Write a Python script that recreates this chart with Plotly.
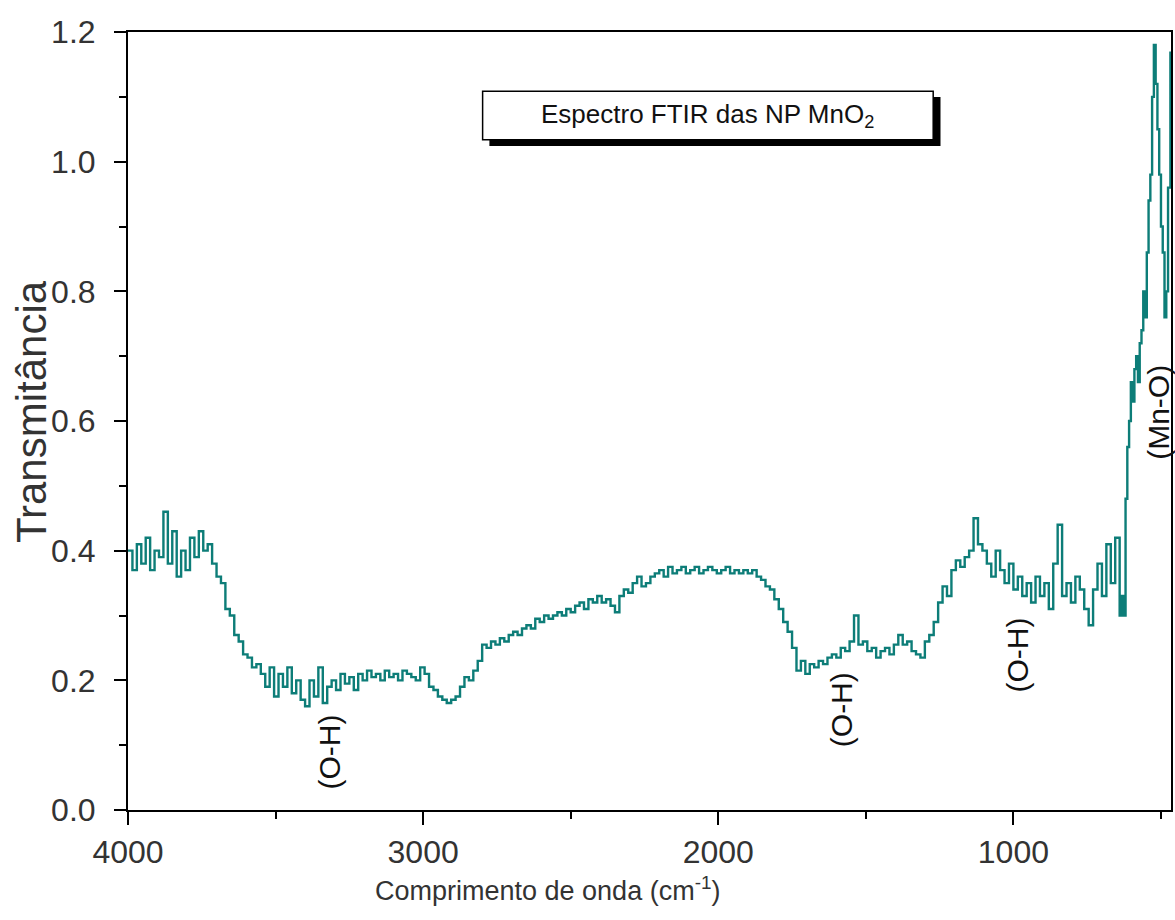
import plotly.graph_objects as go

# Wavenumber (cm^-1) and transmittance
wavenumber = [
    4000, 3985, 3970, 3955, 3940, 3925, 3910, 3895, 3880, 3865, 3850, 3835, 3820, 3805, 3790, 3775, 3760, 3745,
    3730, 3715, 3700, 3685, 3670, 3655, 3640, 3625, 3610, 3595, 3580, 3565, 3550, 3535, 3520, 3505, 3490, 3475,
    3460, 3445, 3430, 3415, 3400, 3385, 3370, 3355, 3340, 3325, 3310, 3295, 3280, 3265, 3250, 3235, 3220, 3205,
    3190, 3175, 3160, 3145, 3130, 3115, 3100, 3085, 3070, 3055, 3040, 3025, 3010, 2995, 2980, 2965, 2950, 2935,
    2920, 2905, 2890, 2875, 2860, 2845, 2830, 2815, 2800, 2785, 2770, 2755, 2740, 2725, 2710, 2695, 2680, 2665,
    2650, 2635, 2620, 2605, 2590, 2575, 2560, 2545, 2530, 2515, 2500, 2485, 2470, 2455, 2440, 2425, 2410, 2395,
    2380, 2365, 2350, 2335, 2320, 2305, 2290, 2275, 2260, 2245, 2230, 2215, 2200, 2185, 2170, 2155, 2140, 2125,
    2110, 2095, 2080, 2065, 2050, 2035, 2020, 2005, 1990, 1975, 1960, 1945, 1930, 1915, 1900, 1885, 1870, 1855,
    1840, 1825, 1810, 1795, 1780, 1765, 1750, 1735, 1720, 1705, 1690, 1675, 1660, 1645, 1630, 1615, 1600, 1585,
    1570, 1555, 1540, 1525, 1510, 1495, 1480, 1465, 1450, 1435, 1420, 1405, 1390, 1375, 1360, 1345, 1330, 1315,
    1300, 1285, 1270, 1255, 1240, 1225, 1210, 1195, 1180, 1165, 1150, 1135, 1120, 1105, 1090, 1075, 1060, 1045,
    1030, 1015, 1000, 985, 970, 955, 940, 925, 910, 895, 880, 865, 850, 835, 820, 805, 790, 775,
    760, 745, 730, 715, 700, 685, 670, 655, 640, 632, 626, 620, 614, 608, 602, 596, 590, 584,
    578, 572, 566, 560, 554, 548, 542, 536, 530, 524, 518, 512, 506, 500, 494, 488, 482, 476,
    468,
]
transmittance = [
    0.40, 0.37, 0.41, 0.38, 0.42, 0.37, 0.40, 0.39, 0.46, 0.38, 0.43, 0.36, 0.40, 0.37, 0.42, 0.39, 0.43, 0.40,
    0.41, 0.38, 0.36, 0.35, 0.31, 0.30, 0.27, 0.26, 0.24, 0.235, 0.22, 0.225, 0.21, 0.19, 0.22, 0.175, 0.21, 0.19,
    0.22, 0.18, 0.20, 0.17, 0.16, 0.20, 0.175, 0.22, 0.165, 0.19, 0.20, 0.185, 0.21, 0.195, 0.205, 0.185, 0.21, 0.20,
    0.215, 0.205, 0.21, 0.20, 0.215, 0.205, 0.21, 0.20, 0.215, 0.21, 0.205, 0.20, 0.22, 0.21, 0.19, 0.185, 0.175, 0.17,
    0.165, 0.17, 0.175, 0.19, 0.205, 0.20, 0.215, 0.23, 0.255, 0.25, 0.26, 0.255, 0.265, 0.26, 0.27, 0.275, 0.27, 0.28,
    0.285, 0.28, 0.295, 0.29, 0.30, 0.295, 0.30, 0.305, 0.30, 0.31, 0.305, 0.315, 0.32, 0.31, 0.325, 0.32, 0.33, 0.32,
    0.325, 0.315, 0.305, 0.33, 0.34, 0.335, 0.35, 0.36, 0.345, 0.35, 0.36, 0.365, 0.37, 0.36, 0.375, 0.365, 0.37, 0.375,
    0.365, 0.37, 0.375, 0.365, 0.37, 0.375, 0.37, 0.365, 0.37, 0.375, 0.365, 0.37, 0.365, 0.37, 0.365, 0.37, 0.36, 0.355,
    0.345, 0.34, 0.325, 0.31, 0.29, 0.275, 0.25, 0.215, 0.23, 0.21, 0.225, 0.22, 0.23, 0.225, 0.235, 0.24, 0.235, 0.25,
    0.245, 0.26, 0.30, 0.255, 0.26, 0.245, 0.25, 0.235, 0.245, 0.25, 0.24, 0.255, 0.27, 0.255, 0.26, 0.245, 0.24, 0.235,
    0.26, 0.27, 0.29, 0.32, 0.345, 0.33, 0.37, 0.385, 0.375, 0.39, 0.40, 0.45, 0.41, 0.40, 0.38, 0.36, 0.40, 0.37,
    0.35, 0.38, 0.34, 0.36, 0.33, 0.35, 0.32, 0.36, 0.33, 0.35, 0.31, 0.38, 0.44, 0.33, 0.35, 0.32, 0.36, 0.34,
    0.31, 0.285, 0.34, 0.38, 0.33, 0.41, 0.35, 0.42, 0.30, 0.33, 0.30, 0.48, 0.56, 0.60, 0.66, 0.63, 0.68, 0.70,
    0.66, 0.72, 0.74, 0.80, 0.76, 0.86, 0.94, 0.98, 1.10, 1.18, 1.12, 1.05, 0.98, 0.90, 0.86, 0.76, 0.80, 0.96,
    1.17,
]

# Band labels
band_labels = ["(O-H)", "(O-H)", "(O-H)", "(Mn-O)"]
band_x = [3318, 1584, 986, 507]
band_y = [0.089, 0.154, 0.239, 0.614]

FONT = "Arial, 'Liberation Sans', sans-serif"
TXT = "#333333"

fig = go.Figure()
fig.add_trace(go.Scatter(
    x=wavenumber, y=transmittance, mode="lines",
    line=dict(color="#0d7d78", width=2.4, shape="hv"), showlegend=False,
))

for lab, bx, by in zip(band_labels, band_x, band_y):
    fig.add_annotation(x=bx, y=by, xref="x", yref="y", text=lab, textangle=-90,
                       xanchor="center", yanchor="middle",
                       showarrow=False, font=dict(family=FONT, size=30, color="#111111"))

# Title box with shadow
fig.add_shape(type="rect", xref="paper", yref="paper",
              x0=0.3465, x1=0.7790, y0=0.8535, y1=0.9165,
              fillcolor="black", line=dict(width=0), layer="above")
fig.add_shape(type="rect", xref="paper", yref="paper",
              x0=0.3400, x1=0.7720, y0=0.8615, y1=0.9240,
              fillcolor="white", line=dict(color="black", width=1.5), layer="above")
fig.add_annotation(x=0.556, y=0.8925, xref="paper", yref="paper",
                   xanchor="center", yanchor="middle",
                   text="Espectro FTIR das NP MnO<sub>2</sub>", showarrow=False,
                   font=dict(family=FONT, size=26, color="#111111"))

# Axis titles
fig.add_annotation(x=0.402, y=-0.101, xref="paper", yref="paper",
                   xanchor="center", yanchor="middle",
                   text="Comprimento de onda (cm<sup>-1</sup>)", showarrow=False,
                   font=dict(family=FONT, size=27, color=TXT))
fig.add_annotation(x=-0.0919, y=0.5116, xref="paper", yref="paper",
                   xanchor="center", yanchor="middle",
                   text="Transmitância", textangle=-90, showarrow=False,
                   font=dict(family=FONT, size=42, color=TXT))

fig.update_xaxes(
    range=[4000, 466], tick0=0, dtick=1000,
    ticks="outside", ticklen=13, tickwidth=2, tickcolor="black",
    minor=dict(dtick=500, ticks="outside", ticklen=7, tickwidth=2, tickcolor="black"),
    showline=True, linecolor="black", linewidth=2, mirror=True,
    showgrid=False, zeroline=False,
    tickfont=dict(family=FONT, size=32, color=TXT), ticklabelstandoff=0,
)
fig.update_yaxes(
    range=[0, 1.2], tick0=0, dtick=0.2, tickformat=".1f",
    ticks="outside", ticklen=12, tickwidth=2, tickcolor="black",
    minor=dict(dtick=0.1, ticks="outside", ticklen=7, tickwidth=2, tickcolor="black"),
    showline=True, linecolor="black", linewidth=2, mirror=True,
    showgrid=False, zeroline=False,
    tickfont=dict(family=FONT, size=32, color=TXT), ticklabelstandoff=12,
)

fig.update_layout(
    width=1175, height=920,
    margin=dict(l=128, r=2, t=32, b=110),
    paper_bgcolor="white", plot_bgcolor="white",
)

fig.write_html("out.html")
